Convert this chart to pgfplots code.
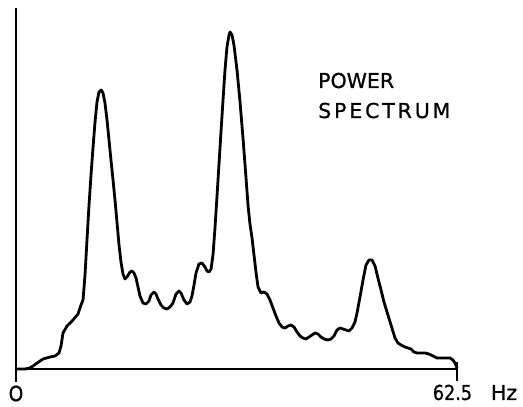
\documentclass[border=0pt]{standalone}
\usepackage{fontspec}
\setmainfont{DejaVu Sans}[FakeBold=0.8]
\usepackage{graphicx}
\usepackage{pgfplots}
\pgfplotsset{compat=1.18}
\usepackage{pgfplotstable}

% Power spectrum trace: frequency (Hz) versus power (arbitrary units)
\pgfplotstableread{
f     p
0.00  0
1.28  0
1.98  1
2.41  3
2.98  6
3.83  10
4.82  12
5.53  13
6.09  16
6.38  23
6.66  36
7.23  43
7.94  48
8.79  55
9.21  64
9.50  69
9.78  94
10.06 129
10.35 164
10.63 194
10.91 221
11.20 247
11.48 267
11.76 277
12.05 279
12.33 276
12.61 266
12.90 249
13.18 229
13.46 209
13.75 189
14.03 169
14.31 147
14.60 124
14.88 107
15.16 95
15.45 90
15.73 92
16.16 97
16.44 98
16.72 96
17.01 91
17.29 82
17.57 73
18.00 66
18.42 65
18.85 68
19.13 74
19.56 77
19.84 75
20.12 70
20.55 64
20.97 61
21.40 60
21.82 62
22.25 66
22.68 75
23.10 78
23.38 76
23.81 69
24.23 65
24.66 67
24.94 73
25.23 84
25.51 96
25.93 105
26.36 106
26.79 102
27.07 98
27.35 97
27.64 100
27.92 114
28.20 141
28.49 173
28.77 205
29.05 237
29.34 269
29.62 299
29.90 322
30.19 334
30.33 337
30.61 334
30.89 324
31.32 299
31.75 267
32.17 231
32.60 191
32.88 164
33.16 145
33.45 131
33.73 114
34.01 97
34.30 82
34.72 76
35.15 77
35.57 75
36.00 69
36.42 61
36.85 53
37.27 46
37.70 42
38.12 41
38.55 43
38.97 44
39.40 42
39.82 37
40.25 33
40.67 31
41.10 30
41.52 32
41.95 34
42.37 36
42.80 35
43.22 32
43.65 30
44.22 29
44.64 30
45.07 33
45.49 39
45.92 41
46.34 40
46.77 39
47.19 38
47.62 41
48.04 47
48.33 56
48.75 72
49.18 89
49.60 104
50.03 109
50.45 109
50.88 103
51.30 91
51.73 79
52.15 67
52.58 57
53.15 44
53.71 31
54.14 26
54.56 24
55.13 22
55.55 21
55.98 20
56.40 17
56.83 16
57.40 16
57.96 16
58.53 15
59.10 13
59.66 11
60.23 11
60.94 11
61.51 11
61.93 9
62.21 6
62.50 1
}\spectrum

\begin{document}
\begin{tikzpicture}
\useasboundingbox (-16bp,-38bp) rectangle (507bp,369bp);
\begin{axis}[
  at={(0,0)}, anchor=south west,
  scale only axis,
  width=441bp, height=361bp,
  xmin=0, xmax=62.5,
  ymin=0, ymax=361,
  axis lines=none,
  clip=false,
]
  % frame: ordinate line, zero line and end tick
  \draw[line width=2bp] (axis cs:0,361) -- (axis cs:0,-13);
  \draw[line width=1.5bp] (axis cs:0,0) -- (axis cs:62.5,0);
  \draw[line width=2bp] (axis cs:62.5,7) -- (axis cs:62.5,-12);

  \addplot[black, line width=2.8bp, line join=round, line cap=round]
    table[x=f, y=p] {\spectrum};

  \node[inner sep=0pt, font=\fontsize{21bp}{24bp}\selectfont]
    at (axis cs:0,-24.5) {\scalebox{0.88}[1]{O}};
  \node[inner sep=0pt, font=\fontsize{20.5bp}{24bp}\selectfont]
    at (axis cs:61.86,-23.5) {\scalebox{0.86}[1]{62.5}};
  \node[inner sep=0pt, font=\fontsize{20.5bp}{24bp}\selectfont]
    at (axis cs:69.16,-23.5) {Hz};

  \node[anchor=base west, inner sep=0pt, font=\fontsize{20.5bp}{24bp}\selectfont]
    at (axis cs:42.8,281) {POWER};
  \node[anchor=base west, inner sep=0pt,
        font=\fontsize{20.5bp}{24bp}\selectfont\addfontfeature{LetterSpace=14}]
    at (axis cs:42.8,251) {SPECTRUM};
\end{axis}
\end{tikzpicture}
\end{document}
